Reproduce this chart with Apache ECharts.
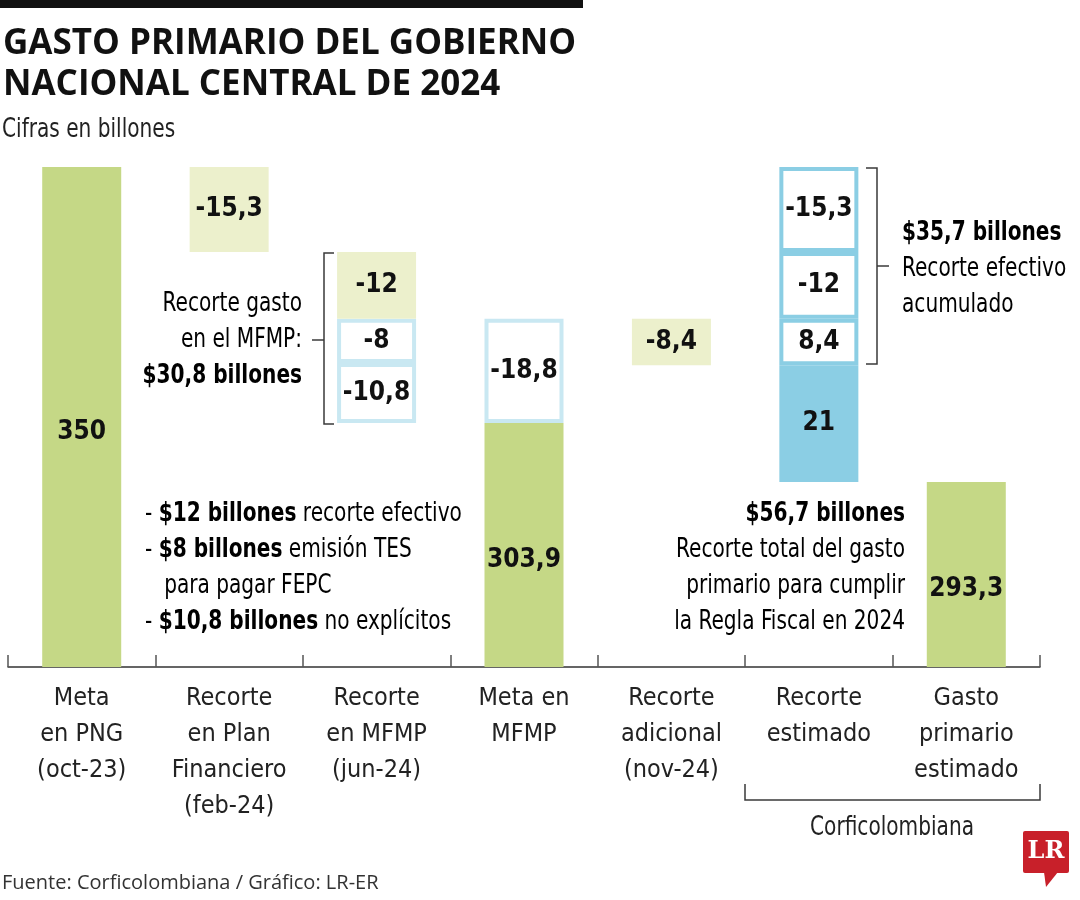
<!DOCTYPE html>
<html>
<head>
<meta charset="utf-8">
<script src="https://cdn.jsdelivr.net/npm/echarts@6/dist/echarts.min.js"></script>
<style>
html,body{margin:0;padding:0;background:#fff;}
#chart{width:1080px;height:900px;}
</style>
</head>
<body>
<div id="chart"></div>
<script>
// ---- Data ----
const categories = ['Meta\nen PNG\n(oct-23)', 'Recorte\nen Plan\nFinanciero\n(feb-24)', 'Recorte\nen MFMP\n(jun-24)', 'Meta en\nMFMP', 'Recorte\nadicional\n(nov-24)', 'Recorte\nestimado', 'Gasto\nprimario\nestimado'];
const metaPNG = 350;
const recortePlanFinanciero = [-15.3];
const recorteMFMP = [-12, -8, -10.8];          // top to bottom
const metaMFMP = 303.9;
const recorteMFMPNoEjecutado = [-18.8];        // shown above Meta en MFMP
const recorteAdicional = [-8.4];
const recorteEstimado = [-15.3, -12, 8.4, 21];  // top to bottom
const gastoEstimado = 293.3;
const axisMin = 260, axisMax = 350;

// ---- Styles ----
const COND = "'Liberation Sans Narrow','DejaVu Sans Condensed','Roboto Condensed',sans-serif";
const GREEN = '#c5d886', LIGHT = '#ecf0cc', PALE = '#c9e8f2', BLUE = '#8bcee4';
const SX = 0.86;
const fmt = v => String(v).replace('.', ',');
const sum = a => a.reduce((s, v) => s + v, 0);
const r1 = v => Math.round(v * 10) / 10;

const styles = {
  light: {color: LIGHT},
  pale: {color: '#fff', borderColor: PALE, borderWidth: 4},
  blueOut: {color: '#fff', borderColor: BLUE, borderWidth: 4},
  blue: {color: BLUE}
};
// per category: base value (green or transparent) and segments bottom->top
const cols = [
  {base: metaPNG, green: true, segs: []},
  {base: r1(metaPNG + sum(recortePlanFinanciero)), segs: recortePlanFinanciero.slice().reverse().map(v => ({v, s: 'light'}))},
  {base: r1(metaPNG + sum(recortePlanFinanciero) + sum(recorteMFMP)), segs: recorteMFMP.slice().reverse().map((v, i, a) => ({v, s: i === a.length - 1 ? 'light' : 'pale'}))},
  {base: metaMFMP, green: true, segs: recorteMFMPNoEjecutado.map(v => ({v, s: 'pale'}))},
  {base: r1(gastoEstimado + recorteEstimado[3]), segs: recorteAdicional.map(v => ({v, s: 'light'}))},
  {base: gastoEstimado, segs: recorteEstimado.slice().reverse().map((v, i) => ({v, s: i === 0 ? 'blue' : 'blueOut'}))},
  {base: gastoEstimado, green: true, segs: []}
];

const labelBold = {show: true, position: 'inside', fontFamily: COND, fontWeight: 'bold', fontSize: 26, color: '#111'};
const series = [];
series.push({
  type: 'bar', stack: 'w', clip: true, barWidth: 79,
  data: cols.map(c => ({
    value: c.base,
    itemStyle: {color: c.green ? GREEN : 'rgba(0,0,0,0)'},
    label: c.green ? Object.assign({}, labelBold, {formatter: fmt(c.base), offset: [0, 15]}) : {show: false}
  })),
  emphasis: {disabled: true}
});
for (let k = 0; k < 4; k++) {
  series.push({
    type: 'bar', stack: 'w', clip: true, barWidth: 79,
    data: cols.map(c => {
      const s = c.segs[k];
      if (!s) return null;
      return {value: Math.abs(s.v), itemStyle: styles[s.s], label: Object.assign({}, labelBold, {formatter: fmt(s.v)})};
    }),
    emphasis: {disabled: true}
  });
}

const lineStyle = {stroke: '#3a3a3a', lineWidth: 1.5, fill: null};
const body = {fontFamily: COND, fontSize: 26, fill: '#222'};
const rich = {
  l: {fontFamily: COND, fontSize: 26, color: '#222', lineHeight: 36},
  b: {fontFamily: COND, fontSize: 26, color: '#111', fontWeight: 'bold', lineHeight: 36}
};

const chart = echarts.init(document.getElementById('chart'), null, {renderer: 'canvas'});
chart.setOption({
  animation: false,
  backgroundColor: '#fff',
  grid: {left: 8, right: 40, top: 167, bottom: 233},
  xAxis: {
    type: 'category', data: categories,
    axisLine: {lineStyle: {color: '#333', width: 1.5}},
    axisTick: {show: true, inside: true, length: 12, lineStyle: {color: '#555', width: 1.5}},
    axisLabel: {margin: 13, fontFamily: COND, fontSize: 25, lineHeight: 36, color: '#222', interval: 0}
  },
  yAxis: {type: 'value', min: axisMin, max: axisMax, show: false, splitLine: {show: false}},
  series: series,
  graphic: [
    {type: 'rect', left: 0, top: 0, shape: {width: 583, height: 8}, style: {fill: '#111'}},
    {type: 'text', left: 3, top: 24, style: {text: 'GASTO PRIMARIO DEL GOBIERNO\nNACIONAL CENTRAL DE 2024', fontFamily: "'Open Sans','Noto Sans',sans-serif", fontWeight: 'bold', fontSize: 35, lineHeight: 41, fill: '#111'}},
    {type: 'text', x: 2, y: 117, scaleX: SX, style: Object.assign({}, body, {text: 'Cifras en billones'})},
    // MFMP bracket
    {type: 'polyline', shape: {points: [[334, 253], [324, 253], [324, 424], [334, 424]]}, style: lineStyle},
    {type: 'line', shape: {x1: 312, y1: 340, x2: 324, y2: 340}, style: lineStyle},
    {type: 'text', x: 302, y: 286, scaleX: SX, style: {text: '{l|Recorte gasto}\n{l|en el MFMP:}\n{b|$30,8 billones}', rich, align: 'right'}},
    // Recorte efectivo bracket
    {type: 'polyline', shape: {points: [[866, 168], [877, 168], [877, 364], [866, 364]]}, style: lineStyle},
    {type: 'line', shape: {x1: 877, y1: 266, x2: 889, y2: 266}, style: lineStyle},
    {type: 'text', x: 902, y: 215, scaleX: SX, style: {text: '{b|$35,7 billones}\n{l|Recorte efectivo}\n{l|acumulado}', rich, align: 'left'}},
    // bullet list
    {type: 'text', x: 145, y: 496, scaleX: SX, style: {text: '{l|- }{b|$12 billones}{l| recorte efectivo}\n{l|- }{b|$8 billones}{l| emisión TES}\n{l|   para pagar FEPC}\n{l|- }{b|$10,8 billones}{l| no explícitos}', rich, align: 'left'}},
    // total recorte
    {type: 'text', x: 905, y: 496, scaleX: SX, style: {text: '{b|$56,7 billones}\n{l|Recorte total del gasto}\n{l|primario para cumplir}\n{l|la Regla Fiscal en 2024}', rich, align: 'right'}},
    // Corficolombiana bracket
    {type: 'polyline', shape: {points: [[745, 784], [745, 800], [1040, 800], [1040, 784]]}, style: lineStyle},
    {type: 'text', x: 892, y: 815, scaleX: SX, style: Object.assign({}, body, {text: 'Corficolombiana', align: 'center'})},
    // source
    {type: 'text', x: 2, y: 873, style: {text: 'Fuente: Corficolombiana / Gráfico: LR-ER', fontFamily: "'Open Sans','Noto Sans',sans-serif", fontSize: 20, fill: '#333'}},
    // LR logo
    {type: 'rect', shape: {x: 1023, y: 831, width: 46, height: 42, r: 2}, style: {fill: '#c8202a'}},
    {type: 'polygon', shape: {points: [[1044, 872], [1058, 872], [1046, 887]]}, style: {fill: '#c8202a'}},
    {type: 'text', x: 1046, y: 852, style: {text: 'LR', fontFamily: "'DejaVu Serif','Liberation Serif',serif", fontWeight: 'bold', fontSize: 24, fill: '#fff', align: 'center', verticalAlign: 'middle'}}
  ]
});
</script>
</body>
</html>
